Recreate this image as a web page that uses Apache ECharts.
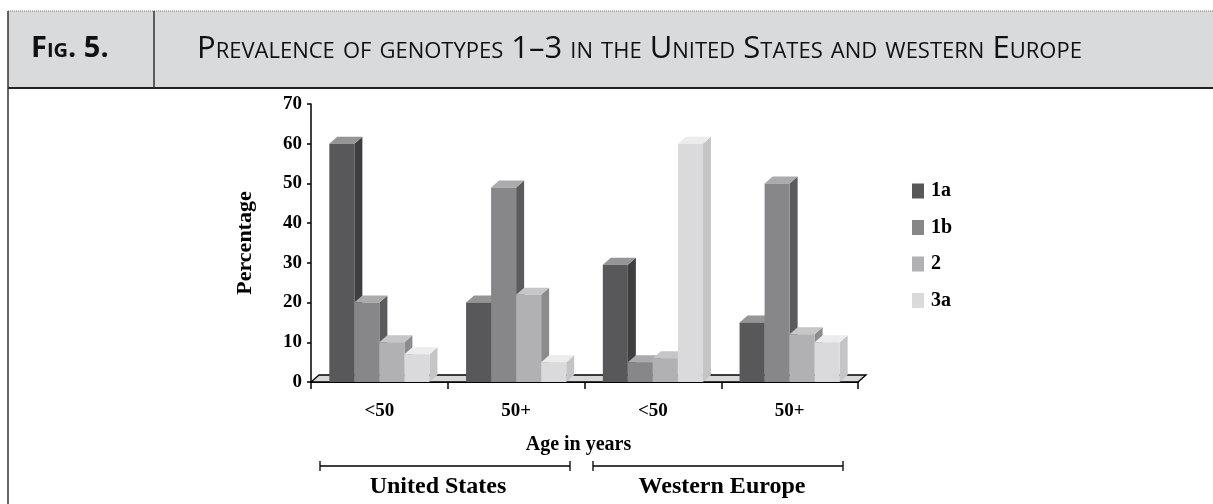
<!DOCTYPE html>
<html>
<head>
<meta charset="utf-8">
<title>Fig. 5</title>
<script src="https://cdn.jsdelivr.net/npm/echarts@6/dist/echarts.min.js"></script>
<style>
  html, body { margin: 0; padding: 0; background: #fff; }
  #chart { width: 1213px; height: 504px; }
</style>
</head>
<body>
<div id="chart"></div>
<script>
// data
const ageGroups = ['<50', '50+', '<50', '50+']
const genotypes = ['1a', '1b', '2', '3a']
const values1a = [60, 20, 29.5, 15]
const values1b = [20, 49, 5, 50]
const values2 = [10, 22, 6, 12]
const values3a = [7, 5, 60, 10]
const regions = ['United States', 'Western Europe']
const figLabel = 'Fig. 5.'
const figTitle = 'Prevalence of genotypes 1–3 in the United States and western Europe'

// styles
const frontColors = ['#58585a', '#87878a', '#b1b1b3', '#dadadc']
const sideColors = ['#3e3e40', '#5b5b5d', '#8b8b8d', '#c5c5c7']
const topColors = ['#959597', '#ababad', '#c6c6c8', '#ececec']
const DX = 8
const DY = 7
const serif = '"Liberation Serif", "Times New Roman", serif'
const sans = '"Open Sans", "Noto Sans", sans-serif'

const allValues = [values1a, values1b, values2, values3a]

const chart = echarts.init(document.getElementById('chart'))

const renderFloor = (params, api) => {
  const cs = params.coordSys
  const x0 = cs.x
  const x1 = cs.x + cs.width
  const y0 = cs.y + cs.height
  return {
    type: 'polygon',
    shape: { points: [[x0, y0], [x1, y0], [x1 + DX, y0 - DY], [x0 + DX, y0 - DY]] },
    style: { fill: '#d8d8d8', stroke: '#000', lineWidth: 1.3 }
  }
}

const renderBar = (params, api) => {
  const s = params.seriesIndex - 1
  const cat = api.value(0)
  const top = api.coord([cat, api.value(1)])
  const base = api.coord([cat, 0])
  const w = api.size([1, 0])[0] * 0.183
  const x = top[0] - 2 * w + s * w
  const ty = top[1]
  const by = base[1]
  return {
    type: 'group',
    children: [
      {
        type: 'polygon',
        shape: { points: [[x + w, ty], [x + w + DX, ty - DY], [x + w + DX, by - DY], [x + w, by]] },
        style: { fill: sideColors[s] }
      },
      {
        type: 'polygon',
        shape: { points: [[x, ty], [x + w, ty], [x + w + DX, ty - DY], [x + DX, ty - DY]] },
        style: { fill: topColors[s] }
      },
      {
        type: 'rect',
        shape: { x: x, y: ty, width: w, height: by - ty },
        style: { fill: frontColors[s] }
      }
    ]
  }
}

const barSeries = genotypes.map((name, i) => ({
  name: name,
  type: 'custom',
  renderItem: renderBar,
  itemStyle: { color: frontColors[i] },
  encode: { x: 0, y: 1 },
  data: allValues[i].map((v, c) => [c, v]),
  z: 3
}))

const option = {
  animation: false,
  grid: {
    left: 311,
    top: 104,
    right: 355,
    bottom: 122,
    containLabel: false,
    outerBoundsMode: 'none'
  },
  legend: {
    data: genotypes,
    orient: 'vertical',
    left: 907,
    top: 176,
    itemWidth: 12,
    itemHeight: 15,
    itemGap: 16.5,
    icon: 'rect',
    selectedMode: false,
    textStyle: { fontFamily: serif, fontWeight: 'bold', fontSize: 20, color: '#000', padding: [0, 0, 0, 2] }
  },
  xAxis: {
    type: 'category',
    data: ageGroups,
    name: 'Age in years',
    nameLocation: 'middle',
    nameGap: 53,
    nameTextStyle: { fontFamily: serif, fontWeight: 'bold', fontSize: 20, color: '#000', padding: [0, 12, 0, 0] },
    axisLine: { show: true, lineStyle: { color: '#000', width: 2 } },
    axisTick: { show: true, length: 7, interval: 0, alignWithLabel: false, lineStyle: { color: '#000', width: 1.5 } },
    axisLabel: { margin: 20, interval: 0, fontFamily: serif, fontWeight: 'bold', fontSize: 19, color: '#000' },
    splitLine: { show: false }
  },
  yAxis: {
    type: 'value',
    min: 0,
    max: 70,
    interval: 10,
    name: 'Percentage',
    nameLocation: 'middle',
    nameGap: 55,
    nameRotate: 90,
    nameTextStyle: { fontFamily: serif, fontWeight: 'bold', fontSize: 22, color: '#000' },
    axisLine: { show: true, lineStyle: { color: '#000', width: 1.5 } },
    axisTick: { show: true, length: 4, lineStyle: { color: '#000', width: 1.5 } },
    axisLabel: { margin: 9, fontFamily: serif, fontWeight: 'bold', fontSize: 19, color: '#000' },
    splitLine: { show: false }
  },
  graphic: [
    // header band
    { type: 'rect', shape: { x: 8, y: 11, width: 1205, height: 77 }, style: { fill: '#d9dadc' }, z: 1 },
    { type: 'line', shape: { x1: 8, y1: 11, x2: 1213, y2: 11 }, style: { stroke: '#777', lineWidth: 1, lineDash: [1, 1] }, z: 2 },
    { type: 'line', shape: { x1: 8, y1: 88, x2: 1213, y2: 88 }, style: { stroke: '#222', lineWidth: 2 }, z: 2 },
    { type: 'line', shape: { x1: 8, y1: 11, x2: 8, y2: 504 }, style: { stroke: '#333', lineWidth: 1.5 }, z: 2 },
    { type: 'line', shape: { x1: 154, y1: 11, x2: 154, y2: 88 }, style: { stroke: '#333', lineWidth: 1.5 }, z: 2 },
    {
      type: 'text', x: 31, y: 49, z: 2,
      style: { text: figLabel, fontFamily: sans, fontWeight: 'bold', fontStyle: 'small-caps', fontSize: 29, fill: '#111', verticalAlign: 'middle' }
    },
    {
      type: 'text', x: 197, y: 49, z: 2,
      style: { text: figTitle, fontFamily: sans, fontStyle: 'small-caps', fontSize: 31, fill: '#111', verticalAlign: 'middle' }
    },
    // region brackets
    { type: 'polyline', shape: { points: [[320, 461], [320, 471], [320, 466], [570, 466], [570, 461], [570, 471]] }, style: { stroke: '#000', lineWidth: 1.3, fill: null } },
    { type: 'polyline', shape: { points: [[593, 461], [593, 471], [593, 466], [843, 466], [843, 461], [843, 471]] }, style: { stroke: '#000', lineWidth: 1.3, fill: null } },
    {
      type: 'text', x: 438, y: 487,
      style: { text: regions[0], fontFamily: serif, fontWeight: 'bold', fontSize: 24, fill: '#000', align: 'center', verticalAlign: 'middle' }
    },
    {
      type: 'text', x: 722, y: 487,
      style: { text: regions[1], fontFamily: serif, fontWeight: 'bold', fontSize: 24, fill: '#000', align: 'center', verticalAlign: 'middle' }
    }
  ],
  series: [
    {
      name: 'floor',
      type: 'custom',
      renderItem: renderFloor,
      silent: true,
      data: [[0, 0]],
      encode: { x: 0, y: 1 },
      z: 2
    }
  ].concat(barSeries)
}

chart.setOption(option)
</script>
</body>
</html>
